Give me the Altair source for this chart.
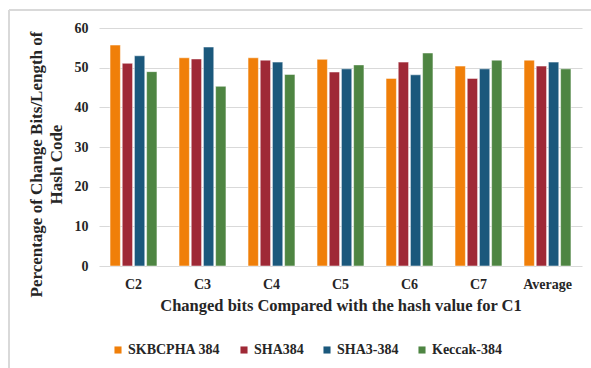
import altair as alt
import pandas as pd

categories = ["C2", "C3", "C4", "C5", "C6", "C7", "Average"]
series = ["SKBCPHA 384", "SHA384", "SHA3-384", "Keccak-384"]
skbcpha = [55.7, 52.5, 52.5, 52.1, 47.3, 50.4, 51.9]
sha384 = [51.1, 52.2, 51.9, 48.9, 51.4, 47.3, 50.4]
sha3 = [53.0, 55.2, 51.4, 49.7, 48.2, 49.7, 51.4]
keccak = [49.0, 45.3, 48.3, 50.7, 53.7, 51.9, 49.7]
colors = ["#F07F09", "#9F2936", "#1B587C", "#4E8542"]

rows = []
for s, vals in zip(series, [skbcpha, sha384, sha3, keccak]):
    for c, v in zip(categories, vals):
        rows.append({"cat": c, "series": s, "value": v})
df = pd.DataFrame(rows)

FONT = "Liberation Serif"

bars = alt.Chart(df).mark_bar(stroke="white", strokeWidth=0.5).encode(
    x=alt.X("cat:N", sort=categories,
            scale=alt.Scale(paddingInner=0.32, paddingOuter=0.16),
            axis=alt.Axis(title="Changed bits Compared with the hash value for C1",
                          labelAngle=0, domain=False, ticks=False, labelPadding=11,
                          titlePadding=6)),
    xOffset=alt.XOffset("series:N", sort=series, scale=alt.Scale(paddingInner=0.15)),
    y=alt.Y("value:Q", scale=alt.Scale(domain=[0, 60]),
            axis=alt.Axis(values=[0, 10, 20, 30, 40, 50, 60], domain=False, ticks=False,
                          labelPadding=11,
                          title=["Percentage of Change Bits/Length of", "Hash Code"],
                          titlePadding=9, titleLineHeight=20, titleY=136)),
    color=alt.Color("series:N", sort=series,
                    scale=alt.Scale(domain=series, range=colors),
                    legend=alt.Legend(title=None, orient="none", direction="horizontal",
                                      legendX=12, legendY=315, symbolType="square",
                                      symbolSize=50, columnPadding=16, labelOffset=3,
                                      symbolStrokeWidth=0)),
)

frame_top = alt.Chart(df).mark_rule(color="#d9d9d9", strokeWidth=1.5, clip=False).encode(
    x=alt.value(-90), x2=alt.value(492), y=alt.value(-18), y2=alt.value(-18))
frame_left = alt.Chart(df).mark_rule(color="#d9d9d9", strokeWidth=1.5, clip=False).encode(
    x=alt.value(-90), x2=alt.value(-90), y=alt.value(-18), y2=alt.value(340))

chart = alt.layer(frame_top, frame_left, bars).properties(
    width=483, height=238,
    autosize=alt.AutoSizeParams(type="none"),
    padding={"left": 99, "top": 28, "right": 9, "bottom": 102},
).configure_view(stroke=None).configure_axis(
    labelFont=FONT, titleFont=FONT, labelFontWeight="bold", titleFontWeight="bold",
    labelFontSize=14, titleFontSize=17, labelColor="#262626", titleColor="#262626",
    gridColor="#d9d9d9",
).configure_axisX(titleFontSize=16.5).configure_legend(
    labelFont=FONT, labelFontWeight="bold", labelFontSize=14, labelColor="#262626"
)

chart.save("out.html", embed_options={"renderer": "svg", "actions": False})
